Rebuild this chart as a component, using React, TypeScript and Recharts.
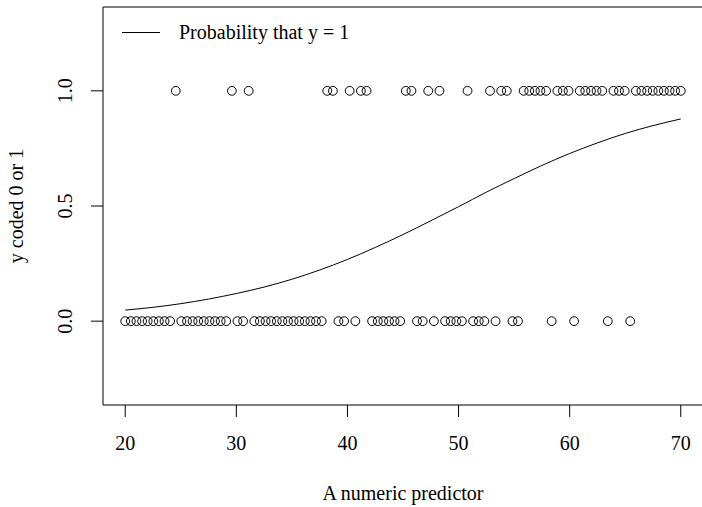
import {
  ComposedChart,
  Scatter,
  Line,
  XAxis,
  YAxis,
  ReferenceArea,
} from "recharts";

const xAtZero = [
  20.0, 20.51, 21.01, 21.52, 22.02, 22.53, 23.03, 23.54, 24.04, 25.05, 25.56,
  26.06, 26.57, 27.07, 27.58, 28.08, 28.59, 29.09, 30.1, 30.61, 31.62, 32.12,
  32.63, 33.13, 33.64, 34.14, 34.65, 35.15, 35.66, 36.16, 36.67, 37.17, 37.68,
  39.19, 39.7, 40.71, 42.22, 42.73, 43.23, 43.74, 44.24, 44.75, 46.26, 46.77,
  47.78, 48.79, 49.29, 49.8, 50.3, 51.31, 51.82, 52.32, 53.33, 54.85, 55.35,
  58.38, 60.4, 63.43, 65.45,
];

const xAtOne = [
  24.55, 29.6, 31.11, 38.18, 38.69, 40.2, 41.21, 41.72, 45.25, 45.76, 47.27,
  48.28, 50.81, 52.83, 53.84, 54.34, 55.86, 56.36, 56.87, 57.37, 57.88, 58.89,
  59.39, 59.9, 60.91, 61.41, 61.92, 62.42, 62.93, 63.94, 64.44, 64.95, 65.96,
  66.46, 66.97, 67.47, 67.98, 68.48, 68.99, 69.49, 70.0,
];

const curveX = [
  20, 22.5, 25, 27.5, 30, 32.5, 35, 37.5, 40, 42.5, 45, 47.5, 50, 52.5, 55,
  57.5, 60, 62.5, 65, 67.5, 70,
];
const curveP = [
  0.048, 0.06, 0.076, 0.096, 0.12, 0.148, 0.182, 0.222, 0.268, 0.32, 0.376,
  0.436, 0.497, 0.56, 0.619, 0.676, 0.728, 0.774, 0.815, 0.849, 0.878,
];

const xTicks = [20, 30, 40, 50, 60, 70];
const yTicks = [0, 0.5, 1];

const points = [
  ...xAtZero.map((x) => ({ x, y: 0 })),
  ...xAtOne.map((x) => ({ x, y: 1 })),
];
const curve = curveX.map((x, i) => ({ x, p: curveP[i] }));

const FONT = "'Liberation Serif', 'DejaVu Serif', serif";

const XTick = (props: any) => (
  <text
    x={props.x}
    y={props.y + 33}
    textAnchor="middle"
    fontFamily={FONT}
    fontSize={20}
    fill="#000"
  >
    {props.payload.value}
  </text>
);

const YTick = (props: any) => (
  <text
    x={props.x - 19}
    y={props.y}
    transform={`rotate(-90, ${props.x - 19}, ${props.y})`}
    textAnchor="middle"
    fontFamily={FONT}
    fontSize={20}
    fill="#000"
  >
    {props.payload.value.toFixed(1)}
  </text>
);

const Circle = (props: any) => (
  <circle
    cx={props.cx}
    cy={props.cy}
    r={4.4}
    fill="none"
    stroke="#000"
    strokeWidth={1}
  />
);

export default function App() {
  return (
    <div
      style={{
        position: "absolute",
        left: 0,
        top: 0,
        width: 702,
        height: 507,
        overflow: "hidden",
        background: "#fff",
      }}
    >
      <ComposedChart
        width={703}
        height={507}
        margin={{ top: 7, right: 0, bottom: 0, left: 0 }}
      >
        <XAxis
          dataKey="x"
          type="number"
          domain={[18, 72]}
          ticks={xTicks}
          allowDataOverflow
          height={102}
          tickSize={12}
          tickMargin={0}
          axisLine={false}
          tickLine={{ stroke: "#000" }}
          tick={<XTick />}
          label={{
            value: "A numeric predictor",
            position: "insideBottom",
            offset: 7,
            fontFamily: FONT,
            fontSize: 20,
            fill: "#000",
          }}
        />
        <YAxis
          type="number"
          domain={[-0.364, 1.364]}
          ticks={yTicks}
          allowDataOverflow
          width={103}
          tickSize={12}
          tickMargin={0}
          axisLine={false}
          tickLine={{ stroke: "#000" }}
          tick={<YTick />}
          label={{
            value: "y coded 0 or 1",
            angle: -90,
            position: "insideLeft",
            offset: 16,
            style: { textAnchor: "middle" },
            fontFamily: FONT,
            fontSize: 20,
            fill: "#000",
          }}
        />
        <ReferenceArea
          x1={18}
          x2={72}
          y1={-0.364}
          y2={1.364}
          fill="none"
          stroke="#000"
          strokeWidth={1}
          fillOpacity={0}
        />
        <Scatter
          data={points}
          dataKey="y"
          shape={<Circle />}
          isAnimationActive={false}
        />
        <Line
          data={curve}
          dataKey="p"
          type="monotone"
          stroke="#000"
          strokeWidth={1}
          dot={false}
          activeDot={false}
          isAnimationActive={false}
        />
      </ComposedChart>
      {/* legend, drawn as in the base-graphics plot (no frame) */}
      <svg
        width={702}
        height={60}
        style={{ position: "absolute", left: 0, top: 0, pointerEvents: "none" }}
      >
        <line x1={122} x2={160} y1={32.5} y2={32.5} stroke="#000" strokeWidth={1} />
        <text x={179} y={38.5} fontFamily={FONT} fontSize={20} fill="#000">
          Probability that y = 1
        </text>
      </svg>
    </div>
  );
}
